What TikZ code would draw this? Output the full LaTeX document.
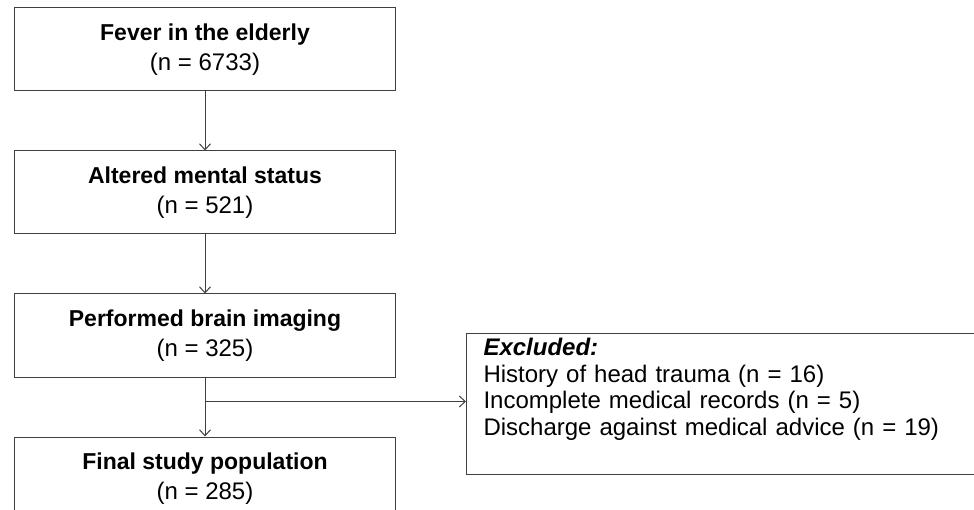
\documentclass[tikz,border=0pt]{standalone}
\usepackage{fontspec}
\setmainfont{Liberation Sans}
\usetikzlibrary{positioning,calc,arrows.meta}

\newcommand{\steptext}[2]{{\fontsize{23}{30}\selectfont\bfseries #1}\\#2}

\begin{document}
\begin{tikzpicture}[x=1pt,y=1pt,node distance=59pt,
stage/.style={
% The shape:
rectangle,
% The size:
minimum width=381pt, minimum height=83pt,
% The border:
draw=black!75, line width=1pt,
% Text
align=center, inner sep=0pt,
font=\fontsize{24}{30}\selectfont
},
exclusion/.style={
rectangle,draw=black!75,line width=1pt,
text width=486pt,
align=left,inner xsep=17pt,inner ysep=5pt,
font=\fontsize{24}{26.5}\selectfont},
flow/.style={draw=black!75,line width=1pt,-{Straight Barb[length=6pt,width=11pt]}}]

\useasboundingbox (0,0) rectangle (974,-510);

\node (fever) [stage] at (205,-49.5) {\steptext{Fever in the elderly}{(n = 6733)}};
\node (altered) [stage, below=of fever] {\steptext{Altered mental status}{(n = 521)}};
\node (imaging) [stage, below=of altered] {\steptext{Performed brain imaging}{(n = 325)}};
\node (final) [stage, below=of imaging] {\steptext{Final study population}{(n = 285)}};
\node (excl) [exclusion, anchor=north west] at (466,-333)
{\textbf{\textit{Excluded:}}\\
History of head trauma (n = 16)\\
Incomplete medical records (n = 5)\\
Discharge against medical advice (n = 19)\rule[-34pt]{0pt}{34pt}};

\coordinate (split) at ($(imaging.south)+(0,-24)$);

\path (fever) edge[flow] (altered);
\path (altered) edge[flow] (imaging);
\path (imaging) edge[flow] (final);
\draw [flow] (split) -- (split -| excl.west);
\end{tikzpicture}
\end{document}
